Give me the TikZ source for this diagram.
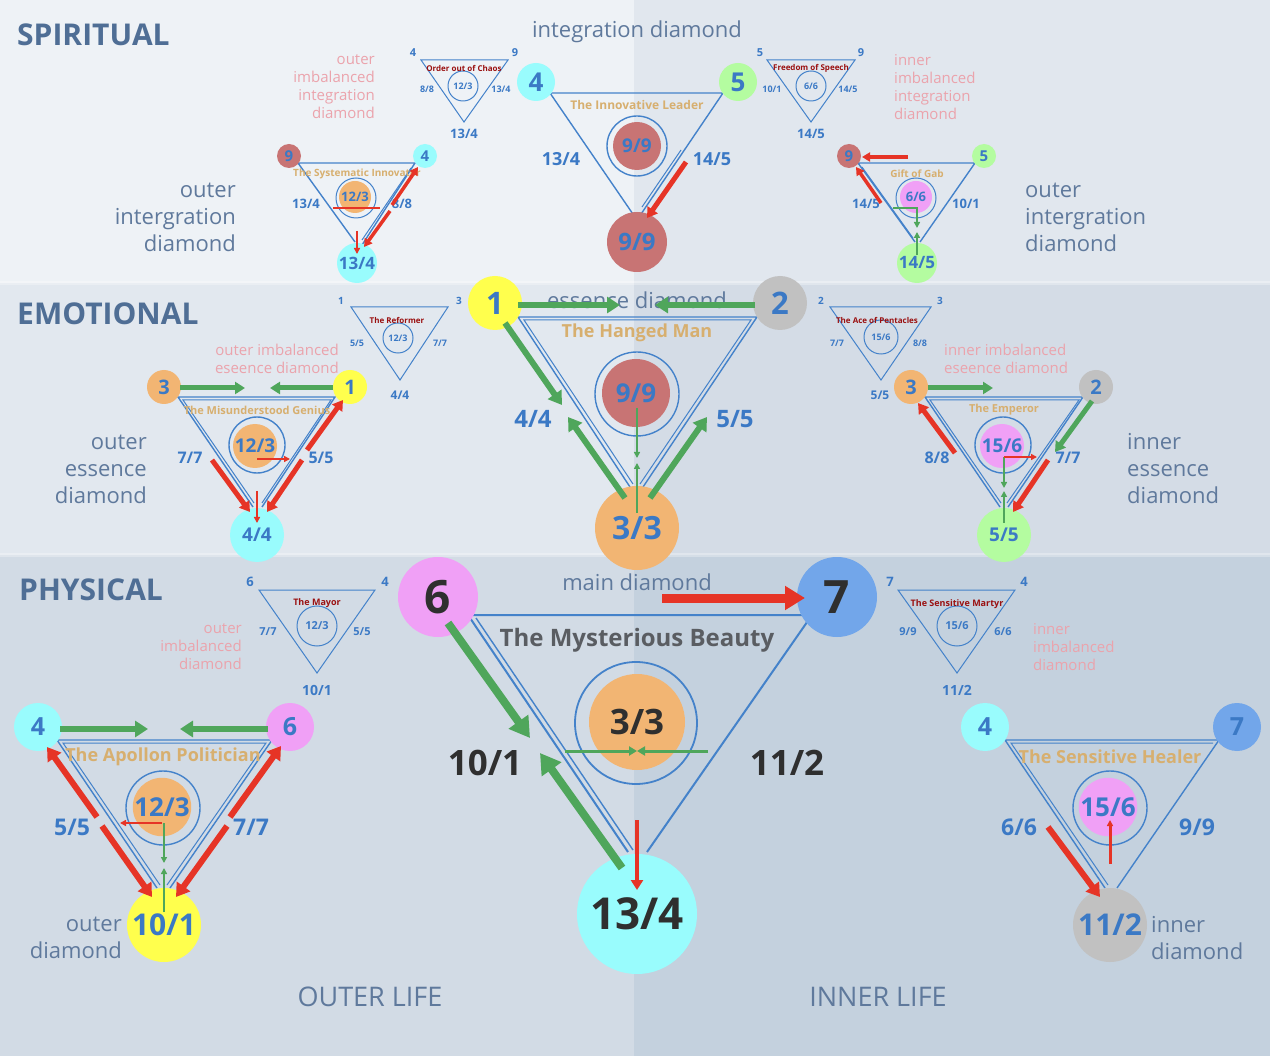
\documentclass[tikz,border=0pt]{standalone}
\usepackage{fontspec}
\setmainfont{Open Sans}
\usetikzlibrary{arrows.meta}
\definecolor{bgSL}{HTML}{EEF2F6}
\definecolor{bgSR}{HTML}{E1E7EE}
\definecolor{bgEL}{HTML}{E2E8EF}
\definecolor{bgER}{HTML}{D4DCE6}
\definecolor{bgPL}{HTML}{D2DBE5}
\definecolor{bgPR}{HTML}{C4D1DE}
\definecolor{tblue}{HTML}{4482CA}
\definecolor{txtblue}{HTML}{3B79C5}
\definecolor{lblc}{HTML}{5F799C}
\definecolor{headc}{HTML}{4F6E95}
\definecolor{pinkl}{HTML}{EBA3AC}
\definecolor{tanc}{HTML}{D7AF6F}
\definecolor{dredc}{HTML}{9A1010}
\definecolor{cyanc}{HTML}{99FCFD}
\definecolor{greenc}{HTML}{B4FCA0}
\definecolor{redc}{HTML}{C87474}
\definecolor{yellowc}{HTML}{FFFF4D}
\definecolor{grayc}{HTML}{C1C1C1}
\definecolor{orangec}{HTML}{F2B573}
\definecolor{pinkc}{HTML}{F0A0F6}
\definecolor{bluec}{HTML}{72A6EA}
\definecolor{garr}{HTML}{4FA65B}
\definecolor{rarr}{HTML}{E63426}
\definecolor{darkt}{HTML}{2F2F2F}
\definecolor{mbt}{HTML}{5A5D62}
\tikzset{
 tri/.style={draw=tblue, line width=1.4pt},
 trin/.style={draw=tblue, line width=1pt},
 ring/.style={circle, draw=tblue, line width=1.4pt, inner sep=0pt, minimum size=#1},
 sring/.style={circle, draw=tblue, line width=1pt, inner sep=0pt, minimum size=#1},
 disc/.style={circle, inner sep=0pt, minimum size=#1},
 fb/.style={font=\fontsize{#1}{#1}\selectfont\bfseries},
 nb/.style={text=txtblue, inner sep=0pt, fb=#1},
 nd/.style={text=darkt, inner sep=0pt, fb=#1},
 ttl/.style={text=tanc, inner sep=0pt, fb=#1},
 st/.style={text=dredc, inner sep=0pt, fb=#1},
 hd/.style={text=headc, inner sep=0pt, anchor=west, font=\fontsize{30}{30}\selectfont\bfseries},
 lb/.style={text=lblc, inner sep=0pt, font=\fontsize{22}{27}\selectfont},
 pk/.style={text=pinkl, inner sep=0pt, font=\fontsize{15}{18}\selectfont},
 ra/.style={draw=rarr, line width=#1},
 ga/.style={draw=garr, line width=#1},
 tipS/.style={-{Triangle[length=6pt,width=6pt]}},
 tipSM/.style={-{Triangle[length=8pt,width=9pt]}},
 tipM/.style={-{Triangle[length=10pt,width=12pt]}},
 tipL/.style={-{Triangle[length=13pt,width=16pt]}},
 tipXL/.style={-{Triangle[length=20pt,width=23pt]}},
}
\begin{document}
\begin{tikzpicture}[x=1pt,y=-1pt]
\useasboundingbox (0,0) rectangle (1270,1056);
% ---------- backgrounds
\fill[bgSL] (0,0) rectangle (634,283);
\fill[bgSR] (634,0) rectangle (1270,283);
\fill[bgEL] (0,283) rectangle (634,555);
\fill[bgER] (634,283) rectangle (1270,555);
\fill[bgPL] (0,555) rectangle (634,1056);
\fill[bgPR] (634,555) rectangle (1270,1056);
\fill[white, opacity=0.3] (0,281) rectangle (1270,285);
\fill[white, opacity=0.3] (0,553) rectangle (1270,557);
% ---------- triangles
\draw[trin] (421,60) -- (508,60) -- (464,122) -- cycle;
\draw[trin] (767,60) -- (855,60) -- (811,122) -- cycle;
\draw[tri] (550,93) -- (723,93) -- (637,220) -- cycle;
\draw[trin] (681,150) -- (642,207);
\draw[tri] (355,242) -- (298,163) -- (415,163) -- (362,245);
\draw[trin] (411,168) -- (362,240);
\draw[tri] (915,242) -- (858,163) -- (975,163) -- (920,242);
\draw[trin] (862,167) -- (913,238);
\draw[trin] (351,307) -- (448,307) -- (400,380) -- cycle;
\draw[trin] (830,307) -- (931,307) -- (881,380) -- cycle;
\draw[tri] (630,487) -- (518,317) -- (757,317) -- (643,487);
\draw[trin] (633,484) -- (524,320) -- (751,320) -- (640,484);
\draw[tri] (253,507) -- (178,397) -- (335,397) -- (262,507);
\draw[trin] (254,503) -- (183,400) -- (331,400) -- (262,503);
\draw[tri] (1000,507) -- (925,397) -- (1083,397) -- (1008,507);
\draw[trin] (1001,503) -- (930,400) -- (1079,400) -- (1007,503);
\draw[trin] (259,590) -- (375,590) -- (317,673) -- cycle;
\draw[trin] (898,590) -- (1015,590) -- (957,673) -- cycle;
\draw[tri, line width=2pt] (628,852) -- (468,615) -- (812,615) -- (647,852);
\draw[tri] (476,618) -- (633,850);
\draw[tri] (157,888) -- (57,740) -- (272,740) -- (170,888);
\draw[trin] (160,885) -- (63,743) -- (266,743) -- (167,885);
\draw[tri] (1105,888) -- (1005,740) -- (1219,740) -- (1117,888);
\draw[trin] (1108,885) -- (1011,743) -- (1213,743);
% ---------- section heads and labels
\node[hd] (hsp) at (17,35) {SPIRITUAL};
\node[hd] (hem) at (17,314) {EMOTIONAL};
\node[hd] (hph) at (19,590) {PHYSICAL};
\node[lb] (tint) at (637,32) {integration diamond};
\node[lb] (tess) at (637,300) {essence diamond};
\node[lb] (tmain) at (637,582) {main diamond};
\node[lb, align=right, anchor=east] (loi) at (236,217) {outer\\intergration\\diamond};
\node[lb, align=left, anchor=west] (roi) at (1025,217) {outer\\intergration\\diamond};
\node[pk, align=right, anchor=east] (loimb) at (375,87) {outer\\imbalanced\\integration\\diamond};
\node[pk, align=left, anchor=west] (rimb) at (894,87) {inner\\imbalanced\\integration\\diamond};
\node[lb, align=right, anchor=east] (loe) at (147,469) {outer\\essence\\diamond};
\node[lb, align=left, anchor=west] (rie) at (1127,469) {inner\\essence\\diamond};
\node[pk, align=right, anchor=east] (loeimb) at (339,359) {outer imbalanced\\eseence diamond};
\node[pk, align=left, anchor=west] (rieimb) at (944,359) {inner imbalanced\\eseence diamond};
\node[pk, align=right, anchor=east] (lpimb) at (242,647) {outer\\imbalanced\\diamond};
\node[pk, align=left, anchor=west] (rpimb) at (1033,647) {inner\\imbalanced\\diamond};
\node[lb, align=right, anchor=east] (lod) at (122,938) {outer\\diamond};
\node[lb, align=left, anchor=west] (rid) at (1151,938) {inner\\diamond};
\node[text=lblc, inner sep=0pt, font=\fontsize{27}{27}\selectfont] (olife) at (370,997) {OUTER LIFE};
\node[text=lblc, inner sep=0pt, font=\fontsize{27}{27}\selectfont] (ilife) at (878,997) {INNER LIFE};
% ---------- spiritual small triangles
\node[sring=30, nb=9] (oc) at (463,86) {12/3};
\node[st=8] (octl) at (464,68) {Order out of Chaos};
\node[nb=11] (oc4) at (413,53) {4};
\node[nb=11] (oc9) at (515,53) {9};
\node[nb=9] (oc88) at (427,89) {8/8};
\node[nb=9] (oc134) at (501,89) {13/4};
\node[nb=13] (ocb) at (464,134) {13/4};
\node[sring=30, nb=9] (fs) at (811,86) {6/6};
\node[st=8] (fstl) at (811,68) {Freedom of Speech};
\node[nb=11] (fs5) at (760,53) {5};
\node[nb=11] (fs9) at (861,53) {9};
\node[nb=9] (fs101) at (772,89) {10/1};
\node[nb=9] (fs145) at (848,89) {14/5};
\node[nb=13] (fsb) at (811,134) {14/5};
% integration diamond
\node[ring=60] (ilr) at (637,146) {};
\node[disc=48, fill=redc, nb=19] (il99) at (637,146) {9/9};
\node[disc=38, fill=cyanc, nb=26] (il4) at (536,82) {4};
\node[disc=38, fill=greenc, nb=26] (il5) at (738,82) {5};
\node[disc=60, fill=redc, nb=24] (il9b) at (637,242) {9/9};
\node[nb=18] (il134) at (561,159) {13/4};
\node[nb=18] (il145) at (712,159) {14/5};
\node[ttl=12] (iltl) at (637,105) {The Innovative Leader};
% systematic innovator
\node[sring=40] (sir) at (356,198) {};
\node[disc=32, fill=orangec, nb=13] (si123) at (355,197) {12/3};
\node[disc=24, fill=redc, nb=15] (si9) at (289,156) {9};
\node[disc=24, fill=cyanc, nb=15] (si4) at (425,156) {4};
\node[disc=40, fill=cyanc, nb=17] (si134n) at (357,263) {13/4};
\node[ttl=10] (sitl) at (357,174) {The Systematic Innovator};
\node[nb=13] (si134) at (306,204) {13/4};
\node[nb=13] (si88) at (402,204) {8/8};
% gift of gab
\node[sring=40] (ggr) at (916,198) {};
\node[disc=32, fill=pinkc, nb=13] (gg66) at (916,197) {6/6};
\node[disc=24, fill=redc, nb=15] (gg9) at (849,156) {9};
\node[disc=24, fill=greenc, nb=15] (gg5) at (984,156) {5};
\node[disc=40, fill=greenc, nb=17] (gg145n) at (917,263) {14/5};
\node[ttl=10] (ggtl) at (917,174) {Gift of Gab};
\node[nb=13] (gg145) at (866,204) {14/5};
\node[nb=13] (gg101) at (966,204) {10/1};
% ---------- emotional small triangles
\node[sring=30, nb=9] (rf) at (398,338) {12/3};
\node[st=8] (rftl) at (397,320) {The Reformer};
\node[nb=10] (rf1) at (341,301) {1};
\node[nb=10] (rf3) at (459,301) {3};
\node[nb=9] (rf55) at (357,343) {5/5};
\node[nb=9] (rf77) at (440,343) {7/7};
\node[nb=12] (rfb) at (400,395) {4/4};
\node[sring=34, nb=9] (ap) at (881,337) {15/6};
\node[st=8] (aptl) at (877,320) {The Ace of Pentacles};
\node[nb=10] (ap2) at (821,301) {2};
\node[nb=10] (ap3) at (940,301) {3};
\node[nb=9] (ap77) at (837,343) {7/7};
\node[nb=9] (ap88) at (920,343) {8/8};
\node[nb=12] (apb) at (880,395) {5/5};
% hanged man
\node[ring=84] (hmr) at (637,394) {};
\node[disc=68, fill=redc, nb=26] (hm99) at (636,393) {9/9};
\node[disc=54, fill=yellowc, nb=31] (hm1) at (495,303) {1};
\node[disc=54, fill=grayc, nb=31] (hm2) at (780,303) {2};
\node[disc=84, fill=orangec, nb=32] (hm33) at (637,528) {3/3};
\node[ttl=18] (hmtl) at (637,333) {The Hanged Man};
\node[nb=24] (hm44) at (533,419) {4/4};
\node[nb=24] (hm55) at (735,419) {5/5};
% misunderstood genius
\node[ring=56] (mgr) at (257,445) {};
\node[disc=44, fill=orangec, nb=19] (mg123) at (255,446) {12/3};
\node[disc=34, fill=orangec, nb=20] (mg3) at (164,387) {3};
\node[disc=34, fill=yellowc, nb=20] (mg1) at (350,387) {1};
\node[disc=54, fill=cyanc, nb=19] (mg44) at (257,535) {4/4};
\node[ttl=11] (mgtl) at (257,410) {The Misunderstood Genius};
\node[nb=16] (mg77) at (190,458) {7/7};
\node[nb=16] (mg55) at (321,458) {5/5};
% emperor
\node[ring=56] (emr) at (1003,445) {};
\node[disc=44, fill=pinkc, nb=19] (em156) at (1002,446) {15/6};
\node[disc=34, fill=orangec, nb=20] (em3) at (911,387) {3};
\node[disc=34, fill=grayc, nb=20] (em2) at (1096,387) {2};
\node[disc=54, fill=greenc, nb=19] (em55) at (1004,535) {5/5};
\node[ttl=11] (emtl) at (1004,410) {The Emperor};
\node[nb=16] (em88) at (937,458) {8/8};
\node[nb=16] (em77) at (1068,458) {7/7};
% ---------- physical small triangles
\node[sring=40, nb=11] (my) at (317,626) {12/3};
\node[st=9] (mytl) at (317,603) {The Mayor};
\node[nb=13] (my6) at (250,582) {6};
\node[nb=13] (my4) at (385,582) {4};
\node[nb=11] (my77) at (268,632) {7/7};
\node[nb=11] (my55) at (362,632) {5/5};
\node[nb=14] (myb) at (317,690) {10/1};
\node[sring=40, nb=11] (sm) at (957,626) {15/6};
\node[st=9] (smtl) at (957,604) {The Sensitive Martyr};
\node[nb=13] (sm7) at (890,582) {7};
\node[nb=13] (sm4) at (1024,582) {4};
\node[nb=11] (sm99) at (908,632) {9/9};
\node[nb=11] (sm66) at (1003,632) {6/6};
\node[nb=14] (smb) at (957,690) {11/2};
% main diamond
\node[ring=122, line width=1.8pt] (mdr) at (636,723) {};
\node[disc=96, fill=orangec, nd=35] (md33) at (637,722) {3/3};
\node[disc=80, fill=pinkc, nd=46] (md6) at (438,597) {6};
\node[disc=80, fill=bluec, nd=46] (md7) at (837,597) {7};
\node[disc=120, fill=cyanc, nd=44] (md134) at (637,914) {13/4};
\node[text=mbt, inner sep=0pt, fb=24] (mdtl) at (637,640) {The Mysterious Beauty};
\node[nd=35] (md101) at (485,763) {10/1};
\node[nd=35] (md112) at (787,763) {11/2};
% apollon politician
\node[ring=74] (apr) at (163,808) {};
\node[disc=58, fill=orangec, nb=26] (ap123) at (162,807) {12/3};
\node[disc=48, fill=cyanc, nb=25] (apn4) at (38,727) {4};
\node[disc=48, fill=pinkc, nb=25] (apn6) at (290,727) {6};
\node[disc=74, fill=yellowc, nb=30] (ap101) at (164,925) {10/1};
\node[ttl=18] (aptl2) at (163,757) {The Apollon Politician};
\node[nb=23] (ap55) at (72,827) {5/5};
\node[nb=23] (ap77b) at (251,827) {7/7};
% sensitive healer
\node[ring=74] (shr) at (1110,808) {};
\node[disc=58, fill=pinkc, nb=26] (sh156) at (1108,807) {15/6};
\node[disc=48, fill=cyanc, nb=25] (sh4) at (985,727) {4};
\node[disc=48, fill=bluec, nb=25] (sh7) at (1237,727) {7};
\node[disc=74, fill=grayc, nb=30] (sh112) at (1110,925) {11/2};
\node[ttl=18] (shtl) at (1110,757) {The Sensitive Healer};
\node[nb=23] (sh66) at (1019,827) {6/6};
\node[nb=23] (sh99) at (1197,827) {9/9};
% ---------- arrows: spiritual
\coordinate (s1a) at (686,162); \coordinate (s1b) at (647,218); \draw[ra=5,tipM] (s1a) -- (s1b);
\coordinate (s2a) at (392,205); \coordinate (s2b) at (418,167); \draw[ra=3.5,tipSM] (s2a) -- (s2b);
\coordinate (s3a) at (390,211); \coordinate (s3b) at (364,247); \draw[ra=3.5,tipSM] (s3a) -- (s3b);
\coordinate (s4a) at (333,208); \coordinate (s4b) at (380,208); \draw[ra=2] (s4a) -- (s4b);
\coordinate (s5a) at (357,231); \coordinate (s5b) at (357,254); \draw[ra=1.5,tipS] (s5a) -- (s5b);
\coordinate (s6a) at (908,157); \coordinate (s6b) at (862,157); \draw[ra=3.5,tipSM] (s6a) -- (s6b);
\coordinate (s7a) at (881,203); \coordinate (s7b) at (856,167); \draw[ra=3.5,tipSM] (s7a) -- (s7b);
\coordinate (s8a) at (893,208); \coordinate (s8m) at (917,208); \coordinate (s8b) at (917,228); \draw[ga=1.8,tipS] (s8a) -- (s8m) -- (s8b);
\coordinate (s9a) at (917,255); \coordinate (s9b) at (917,232); \draw[ga=1.8,tipS] (s9a) -- (s9b);
% ---------- arrows: emotional
\coordinate (e1a) at (518,305); \coordinate (e1b) at (620,305); \draw[ga=6,tipL] (e1a) -- (e1b);
\coordinate (e2a) at (755,305); \coordinate (e2b) at (655,305); \draw[ga=6,tipL] (e2a) -- (e2b);
\coordinate (e3a) at (505,323); \coordinate (e3b) at (562,405); \draw[ga=6,tipL] (e3a) -- (e3b);
\coordinate (e4a) at (625,498); \coordinate (e4b) at (568,417); \draw[ga=6,tipL] (e4a) -- (e4b);
\coordinate (e5a) at (650,498); \coordinate (e5b) at (707,417); \draw[ga=6,tipL] (e5a) -- (e5b);
\coordinate (e6a) at (637,408); \coordinate (e6b) at (637,458); \draw[ga=2.5,tipS] (e6a) -- (e6b);
\coordinate (e7a) at (637,513); \coordinate (e7b) at (637,463); \draw[ga=2.5,tipS] (e7a) -- (e7b);
\coordinate (e8a) at (180,388); \coordinate (e8b) at (245,388); \draw[ga=5,tipM] (e8a) -- (e8b);
\coordinate (e9a) at (333,388); \coordinate (e9b) at (270,388); \draw[ga=5,tipM] (e9a) -- (e9b);
\coordinate (e10a) at (212,460); \coordinate (e10b) at (250,512); \draw[ra=5,tipM] (e10a) -- (e10b);
\coordinate (e11a) at (302,460); \coordinate (e11b) at (267,512); \draw[ra=5,tipM] (e11a) -- (e11b);
\coordinate (e12a) at (307,450); \coordinate (e12b) at (343,400); \draw[ra=5,tipM] (e12a) -- (e12b);
\coordinate (e13a) at (257,491); \coordinate (e13b) at (257,523); \draw[ra=2,tipS] (e13a) -- (e13b);
\coordinate (e14a) at (257,459); \coordinate (e14b) at (290,459); \draw[ra=2,tipS] (e14a) -- (e14b);
\coordinate (e15a) at (928,388); \coordinate (e15b) at (993,388); \draw[ga=5,tipM] (e15a) -- (e15b);
\coordinate (e16a) at (1092,401); \coordinate (e16b) at (1055,452); \draw[ga=5,tipM] (e16a) -- (e16b);
\coordinate (e17a) at (955,453); \coordinate (e17b) at (918,403); \draw[ra=5,tipM] (e17a) -- (e17b);
\coordinate (e18a) at (1048,460); \coordinate (e18b) at (1013,512); \draw[ra=5,tipM] (e18a) -- (e18b);
\coordinate (e19a) at (1004,457); \coordinate (e19b) at (1004,488); \draw[ga=2,tipS] (e19a) -- (e19b);
\coordinate (e20a) at (1004,523); \coordinate (e20b) at (1004,491); \draw[ga=2,tipS] (e20a) -- (e20b);
\coordinate (e21a) at (1004,457); \coordinate (e21b) at (1037,457); \draw[ra=2,tipS] (e21a) -- (e21b);
% ---------- arrows: physical
\coordinate (p1a) at (448,623); \coordinate (p1b) at (530,738); \draw[ga=8,tipXL] (p1a) -- (p1b);
\coordinate (p2a) at (622,868); \coordinate (p2b) at (540,753); \draw[ga=8,tipXL] (p2a) -- (p2b);
\coordinate (p3a) at (662,598); \coordinate (p3b) at (805,598); \draw[ra=9,tipXL] (p3a) -- (p3b);
\coordinate (p4a) at (637,820); \coordinate (p4b) at (637,890); \draw[ra=4,tipM] (p4a) -- (p4b);
\coordinate (p5a) at (565,751); \coordinate (p5b) at (637,751); \draw[ga=3,tipSM] (p5a) -- (p5b);
\coordinate (p6a) at (708,751); \coordinate (p6b) at (637,751); \draw[ga=3,tipSM] (p6a) -- (p6b);
\coordinate (p7a) at (60,729); \coordinate (p7b) at (148,729); \draw[ga=6,tipL] (p7a) -- (p7b);
\coordinate (p8a) at (268,729); \coordinate (p8b) at (180,729); \draw[ga=6,tipL] (p8a) -- (p8b);
\coordinate (p9a) at (97,817); \coordinate (p9b) at (47,747); \draw[ra=6,tipL] (p9a) -- (p9b);
\coordinate (p10a) at (102,826); \coordinate (p10b) at (152,897); \draw[ra=6,tipL] (p10a) -- (p10b);
\coordinate (p11a) at (230,817); \coordinate (p11b) at (281,746); \draw[ra=6,tipL] (p11a) -- (p11b);
\coordinate (p12a) at (227,826); \coordinate (p12b) at (176,897); \draw[ra=6,tipL] (p12a) -- (p12b);
\coordinate (p13a) at (162,823); \coordinate (p13b) at (120,823); \draw[ra=2,tipS] (p13a) -- (p13b);
\coordinate (p14a) at (164,823); \coordinate (p14b) at (164,863); \draw[ga=2,tipS] (p14a) -- (p14b);
\coordinate (p15a) at (164,912); \coordinate (p15b) at (164,868); \draw[ga=2,tipS] (p15a) -- (p15b);
\coordinate (p16a) at (1048,827); \coordinate (p16b) at (1100,897); \draw[ra=6,tipL] (p16a) -- (p16b);
\coordinate (p17a) at (1110,864); \coordinate (p17b) at (1110,820); \draw[ra=3,tipS] (p17a) -- (p17b);
\end{tikzpicture}
\end{document}
